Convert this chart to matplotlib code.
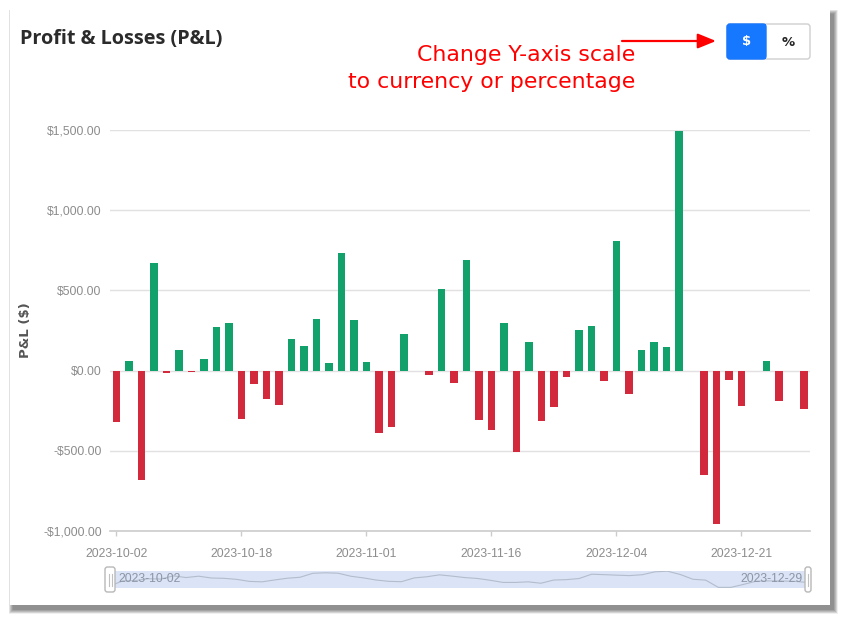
import matplotlib
matplotlib.use("Agg")
import matplotlib.pyplot as plt
import matplotlib.patches as patches
import matplotlib.ticker as mticker
import numpy as np
import pandas as pd

# trading days shown on the chart
dates = [
    '2023-10-02', '2023-10-03', '2023-10-04', '2023-10-05', '2023-10-06',
    '2023-10-09', '2023-10-10', '2023-10-11', '2023-10-12', '2023-10-16',
    '2023-10-18', '2023-10-19', '2023-10-20', '2023-10-23', '2023-10-24',
    '2023-10-25', '2023-10-26', '2023-10-27', '2023-10-30', '2023-10-31',
    '2023-11-01', '2023-11-02', '2023-11-03', '2023-11-06', '2023-11-07',
    '2023-11-08', '2023-11-09', '2023-11-13', '2023-11-14', '2023-11-15',
    '2023-11-16', '2023-11-17', '2023-11-20', '2023-11-21', '2023-11-22',
    '2023-11-24', '2023-11-27', '2023-11-28', '2023-11-29', '2023-11-30',
    '2023-12-04', '2023-12-05', '2023-12-06', '2023-12-07', '2023-12-08',
    '2023-12-11', '2023-12-12', '2023-12-13', '2023-12-14', '2023-12-18',
    '2023-12-21', '2023-12-22', '2023-12-26', '2023-12-27', '2023-12-28',
    '2023-12-29',
]

# daily P&L in dollars
pnl = [
    -320, 62, -680, 668, -17, 131, -10, 73, 272, 299,
    -299, -83, -176, -212, 197, 154, 324, 50, 732, 315,
    54, -390, -351, 230, 0, -29, 508, -79, 689, -307,
    -373, 297, -506, 180, -317, -228, -39, 253, 280, -64,
    805, -143, 131, 178, 147, 1496, 0, -651, -956, -56,
    -222, -4, 62, -189, 0, -237,
]

y_ticks = [-1000, -500, 0, 500, 1000, 1500]
label_every = 10

GREEN = '#12a16b'
RED = '#d2293c'
W, H = 846, 620

fig = plt.figure(figsize=(W / 100, H / 100), dpi=100)
fig.patch.set_facecolor('white')

# background layer in pixel coordinates (card, shadow, title, buttons)
bg = fig.add_axes([0, 0, 1, 1], zorder=0)
bg.set_xlim(0, W)
bg.set_ylim(H, 0)
bg.axis('off')

for k in range(9):
    grow = 9 - k
    bg.add_patch(patches.Rectangle((10 - grow * 0.5 + 3, 10 - grow * 0.5 + 4),
                                   820 + grow, 595 + grow,
                                   facecolor='black', edgecolor='none', alpha=0.06))
bg.add_patch(patches.Rectangle((10, 10), 820, 595, facecolor='white', edgecolor='none'))

bg.text(20, 39, 'Profit & Losses (P&L)', fontsize=14.3, fontweight='bold',
        family='Open Sans', color='#2b2b2b', va='center', ha='left')

bg.text(635, 55, 'Change Y-axis scale', fontsize=15.8, color='#ff0000',
        ha='right', va='center')
bg.text(635, 82, 'to currency or percentage', fontsize=15.8, color='#ff0000',
        ha='right', va='center')
bg.annotate('', xy=(716, 41), xytext=(622, 41),
            arrowprops=dict(arrowstyle='-|>,head_length=1.1,head_width=0.45',
                            color='#ff0000', lw=1.6, shrinkA=0, shrinkB=0))

# $ / % toggle
bg.add_patch(patches.FancyBboxPatch((727, 24), 83, 35,
                                    boxstyle='round,pad=0,rounding_size=3',
                                    facecolor='white', edgecolor='#cfcfcf', lw=1))
bg.add_patch(patches.FancyBboxPatch((727, 24), 39, 35,
                                    boxstyle='round,pad=0,rounding_size=3',
                                    facecolor='#1677ff', edgecolor='#1677ff', lw=1))
bg.add_patch(patches.Rectangle((760, 24), 6, 35, facecolor='#1677ff', edgecolor='none'))
bg.text(746.5, 42, '$', fontsize=9.5, fontweight='bold', color='white',
        ha='center', va='center')
bg.text(788, 42, '%', fontsize=9.5, fontweight='bold', color='#222222',
        ha='center', va='center')

bg.text(26, 330, 'P&L ($)', rotation=90, fontsize=9.5, fontweight='bold',
        color='#555555', ha='center', va='center')

# main bar chart
L, R, T, B = 110, 810, 130, 531
ax = fig.add_axes([L / W, 1 - B / H, (R - L) / W, (B - T) / H], zorder=2)
ax.set_facecolor('none')

x = np.arange(len(pnl))
colors = [GREEN if v >= 0 else RED for v in pnl]
ax.bar(x, pnl, width=0.6, color=colors, edgecolor='none', zorder=3)

ax.set_xlim(-0.5, len(pnl) - 0.5)
ax.set_ylim(y_ticks[0], y_ticks[-1])
ax.set_yticks(y_ticks)


def money(v, pos=None):
    s = '${:,.2f}'.format(abs(v))
    return '-' + s if v < 0 else s


ax.yaxis.set_major_formatter(mticker.FuncFormatter(money))
ax.grid(axis='y', color='#e3e0e3', lw=1, zorder=0)
ax.set_xticks(x[::label_every])
ax.set_xticklabels([dates[i] for i in x[::label_every]])

for side in ['top', 'right', 'left']:
    ax.spines[side].set_visible(False)
ax.spines['bottom'].set_color('#cccccc')
ax.spines['bottom'].set_linewidth(1.2)
ax.tick_params(axis='y', length=0, pad=6, labelsize=8.7, labelcolor='#8c8c8c')
ax.tick_params(axis='x', length=3.5, width=1, color='#cccccc', pad=9,
               labelsize=8.7, labelcolor='#8c8c8c')
for lab in ax.get_xticklabels() + ax.get_yticklabels():
    lab.set_family('Liberation Sans')

# data zoom slider
sL, sR, sT, sB = 110, 807, 571, 588
sx = fig.add_axes([sL / W, 1 - sB / H, (sR - sL) / W, (sB - sT) / H], zorder=2)
sx.set_facecolor('#dbe4f6')
for sp in sx.spines.values():
    sp.set_visible(False)
sx.set_xticks([])
sx.set_yticks([])
shadow = pd.Series(pnl).rolling(5, center=True, min_periods=1).mean()
sx.plot(x, shadow, color='#b3bccb', lw=0.8)
sx.set_xlim(0, len(pnl) - 1)
sx.set_ylim(shadow.min() - 30, shadow.max() + 10)

# overlay for slider handles and labels
top = fig.add_axes([0, 0, 1, 1], zorder=5)
top.set_xlim(0, W)
top.set_ylim(H, 0)
top.axis('off')
top.patch.set_alpha(0)

top.text(118, 579.5, dates[0], fontsize=8.7, color='#8c95a5', family='Liberation Sans',
         ha='left', va='center')
top.text(803, 579.5, dates[-1], fontsize=8.7, color='#8c95a5', family='Liberation Sans',
         ha='right', va='center')
for hx, hw in ((105, 10), (805, 6)):
    top.add_patch(patches.FancyBboxPatch((hx, 567), hw, 25,
                                         boxstyle='round,pad=0,rounding_size=2.5',
                                         facecolor='white', edgecolor='#b8b8b8', lw=1))
for lx in (108.5, 111.5):
    top.plot([lx, lx], [574, 586], color='#c0c0c0', lw=0.8)
top.plot([808, 808], [574, 586], color='#c0c0c0', lw=0.8)

fig.savefig('out.png', dpi=100, facecolor='white')
